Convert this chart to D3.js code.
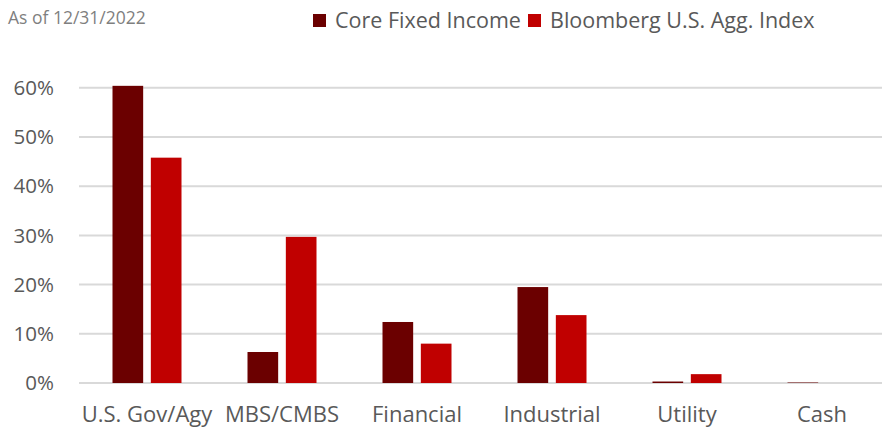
<!DOCTYPE html>
<html>
<head>
<meta charset="utf-8">
<script src="https://cdnjs.cloudflare.com/ajax/libs/d3/7.8.5/d3.min.js"></script>
<style>
  body { margin: 0; background: #fff; }
  svg { display: block; font-family: "Open Sans", sans-serif; }
</style>
</head>
<body>
<svg width="882" height="427"></svg>
<script>
const categories = ["U.S. Gov/Agy", "MBS/CMBS", "Financial", "Industrial", "Utility", "Cash"];
const seriesNames = ["Core Fixed Income", "Bloomberg U.S. Agg. Index"];
const coreFixed = [60.4, 6.3, 12.4, 19.5, 0.3, 0.1];
const bbgAgg = [45.8, 29.7, 8.0, 13.8, 1.8, 0.0];
const yTicks = [0, 10, 20, 30, 40, 50, 60];
const colors = ["#6b0000", "#c00000"];

var svg = d3.select("svg");

var x = d3.scaleBand()
    .domain(categories)
    .range([79.5, 889.5]);

var y = d3.scaleLinear()
    .domain([0, 60])
    .range([383, 87.8]);

var inner = d3.scaleBand()
    .domain(seriesNames)
    .range([x.bandwidth() / 2 - 34.5, x.bandwidth() / 2 + 34.5])
    .paddingInner(0.2);

// gridlines
svg.append("g")
    .selectAll("line")
    .data(yTicks)
    .enter().append("line")
    .attr("x1", 79)
    .attr("x2", 882)
    .attr("y1", d => y(d))
    .attr("y2", d => y(d))
    .attr("stroke", "#d9d9d9")
    .attr("stroke-width", 2);

// y labels
svg.append("g")
    .selectAll("text")
    .data(yTicks)
    .enter().append("text")
    .attr("x", 54)
    .attr("y", d => y(d))
    .attr("dy", "0.35em")
    .attr("text-anchor", "end")
    .attr("fill", "#595959")
    .attr("font-size", 20.5)
    .text(d => d + "%");

// bars
const rows = categories.map((c, i) => ({ cat: c, vals: [coreFixed[i], bbgAgg[i]] }));

var group = svg.append("g")
    .selectAll("g")
    .data(rows)
    .enter().append("g")
    .attr("transform", d => "translate(" + x(d.cat) + ",0)");

group.selectAll("rect")
    .data(d => d.vals.map((v, j) => ({ name: seriesNames[j], v: v, j: j })))
    .enter().append("rect")
    .attr("x", d => inner(d.name))
    .attr("width", inner.bandwidth())
    .attr("y", d => y(d.v))
    .attr("height", d => y(0) - y(d.v))
    .attr("fill", d => colors[d.j]);

// x labels
svg.append("g")
    .selectAll("text")
    .data(categories)
    .enter().append("text")
    .attr("x", d => x(d) + x.bandwidth() / 2)
    .attr("y", 422)
    .attr("text-anchor", "middle")
    .attr("fill", "#595959")
    .attr("font-size", 22)
    .text(d => d);

// subtitle
svg.append("text")
    .attr("x", 8)
    .attr("y", 24)
    .attr("fill", "#7f7f7f")
    .attr("font-size", 17.5)
    .text("As of 12/31/2022");

// legend
const legendX = [313, 528];
var legend = svg.append("g")
    .selectAll("g")
    .data(seriesNames)
    .enter().append("g")
    .attr("transform", (d, i) => "translate(" + legendX[i] + ",0)");

legend.append("rect")
    .attr("x", 0)
    .attr("y", 14)
    .attr("width", 13)
    .attr("height", 13)
    .attr("fill", (d, i) => colors[i]);

legend.append("text")
    .attr("x", 22)
    .attr("y", 28)
    .attr("fill", "#595959")
    .attr("font-size", 21.5)
    .text(d => d);
</script>
</body>
</html>
